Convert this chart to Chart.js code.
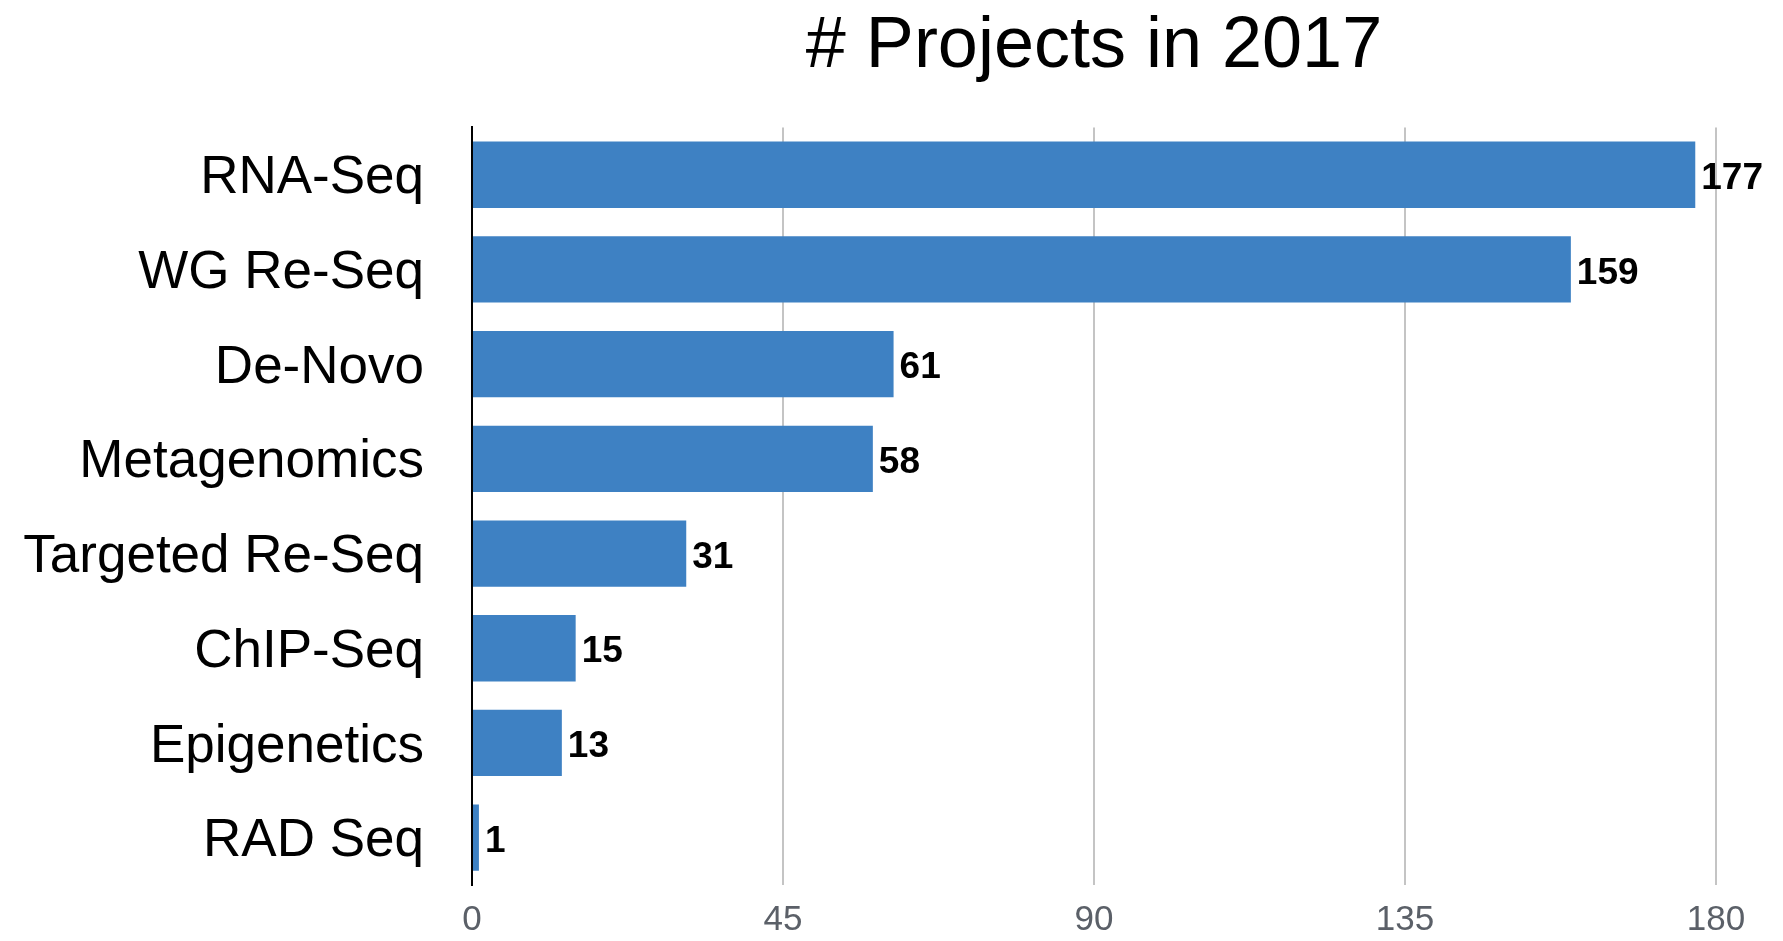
<!DOCTYPE html>
<html>
<head>
<meta charset="utf-8">
<script src="https://cdn.jsdelivr.net/npm/chart.js@4"></script>
<style>
  html, body { margin: 0; padding: 0; background: #fff; }
  #wrap { width: 1783px; height: 941px; }
</style>
</head>
<body>
<div id="wrap"><canvas id="projectsChart"></canvas></div>
<script>
/* ---------- DATA ---------- */
const categories = [
  "RNA-Seq",
  "WG Re-Seq",
  "De-Novo",
  "Metagenomics",
  "Targeted Re-Seq",
  "ChIP-Seq",
  "Epigenetics",
  "RAD Seq",
];
const projectCounts = [177, 159, 61, 58, 31, 15, 13, 1];
const xTicks = [0, 45, 90, 135, 180];

const FONT = "'Liberation Sans', Arial, Helvetica, sans-serif";

/* ---------- VALUE LABELS ---------- */
const valueLabels = {
  id: "valueLabels",
  afterDatasetsDraw(chart) {
    const ctx = chart.ctx;
    const meta = chart.getDatasetMeta(0);
    ctx.save();
    ctx.font = "bold 37px " + FONT;
    ctx.fillStyle = "#000";
    ctx.textAlign = "left";
    ctx.textBaseline = "middle";
    meta.data.forEach((bar, i) => {
      ctx.fillText(String(projectCounts[i]), bar.x + 6, bar.y + 4);
    });
    ctx.restore();
  },
};

new Chart(document.getElementById("projectsChart"), {
  type: "bar",
  data: {
    labels: categories,
    datasets: [
      {
        data: projectCounts,
        backgroundColor: "#3e81c3",
        borderWidth: 0,
        barPercentage: 0.7,
        categoryPercentage: 1.0,
      },
    ],
  },
  options: {
    indexAxis: "y",
    responsive: true,
    maintainAspectRatio: false,
    animation: false,
    layout: { padding: { left: 0, right: 67, top: 0, bottom: 0 } },
    plugins: {
      legend: { display: false },
      tooltip: { enabled: false },
      title: {
        display: true,
        text: "# Projects in 2017",
        fullSize: false,
        color: "#000",
        font: { family: FONT, size: 72, weight: "normal", lineHeight: 1.2 },
        padding: { top: 4, bottom: 37 },
      },
    },
    scales: {
      x: {
        min: 0,
        max: 180,
        afterBuildTicks: (s) => {
          s.ticks = xTicks.map((v) => ({ value: v }));
        },
        afterFit: (s) => {
          s.height = 56;
        },
        grid: {
          color: "#c4c4c4",
          lineWidth: 2,
          drawTicks: false,
        },
        border: { display: false },
        ticks: {
          color: "#5b6068",
          padding: 14,
          font: { family: FONT, size: 35 },
        },
      },
      y: {
        afterFit: (s) => {
          s.width = 472;
          s.paddingTop = 0;
          s.paddingBottom = 0;
        },
        grid: { display: false, drawTicks: false },
        border: { display: true, color: "#000", width: 2 },
        ticks: {
          color: "#000",
          padding: 48,
          labelOffset: 4,
          font: { family: FONT, size: 53 },
        },
      },
    },
  },
  plugins: [valueLabels],
});
</script>
</body>
</html>
